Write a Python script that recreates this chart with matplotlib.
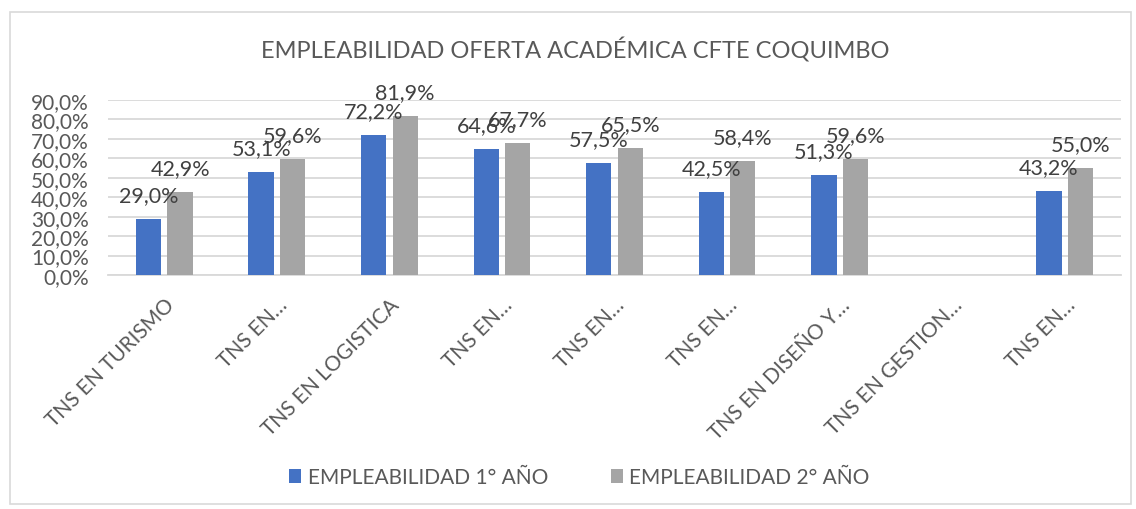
import numpy as np
import matplotlib.pyplot as plt
from matplotlib.patches import Rectangle

plt.rcParams['font.family'] = ['Lato', 'DejaVu Sans']

# data
categories = ["TNS EN TURISMO", "TNS EN…", "TNS EN LOGISTICA", "TNS EN…", "TNS EN…",
              "TNS EN…", "TNS EN DISEÑO Y…", "TNS EN GESTION…", "TNS EN…"]
year1 = [29.0, 53.1, 72.2, 64.6, 57.5, 42.5, 51.3, np.nan, 43.2]
year2 = [42.9, 59.6, 81.9, 67.7, 65.5, 58.4, 59.6, np.nan, 55.0]
series_names = ["EMPLEABILIDAD 1° AÑO", "EMPLEABILIDAD 2° AÑO"]
colors = ["#4472C4", "#A5A5A5"]

txt = "#595959"

fig = plt.figure(figsize=(11.36, 5.1), dpi=100)
ax = fig.add_axes([0.0951, 0.4588, 0.8917, 0.3432])

x = np.arange(len(categories))
w = 0.225
offs = [-0.14, 0.14]

for vals, off, c, name in zip([year1, year2], offs, colors, series_names):
    ax.bar(x + off, vals, width=w, color=c, label=name, zorder=3)
    for xi, v in zip(x, vals):
        if np.isnan(v):
            continue
        ax.annotate(f"{v:.1f}".replace(".", ",") + "%", (xi + off, v),
                    xytext=(0, 10), textcoords="offset points",
                    ha="center", va="bottom", fontsize=15.5, color="#404040",
                    annotation_clip=False, zorder=4)

ax.set_xlim(-0.5, len(categories) - 0.5)
ax.set_ylim(0, 90)
ax.set_yticks(np.arange(0, 91, 10))
ax.set_yticklabels([f"{t},0%" for t in range(0, 91, 10)])
ax.yaxis.grid(True, color="#d9d9d9", linewidth=1.3, zorder=0)
ax.set_axisbelow(True)
for s in ["top", "right", "left"]:
    ax.spines[s].set_visible(False)
ax.spines["bottom"].set_color("#d9d9d9")
ax.spines["bottom"].set_linewidth(1.3)
ax.tick_params(axis="both", length=0, labelsize=15, labelcolor=txt)
ax.tick_params(axis="y", pad=14)

ax.set_xticks(x)
ax.set_xticklabels(categories, rotation=45, ha="right", rotation_mode="anchor")
ax.tick_params(axis="x", pad=14)

fig.text(0.506, 0.902, "EMPLEABILIDAD OFERTA ACADÉMICA CFTE COQUIMBO",
         ha="center", va="center", fontsize=17, color=txt)

leg = fig.legend(loc="center", bbox_to_anchor=(0.51, 0.062), ncol=2, frameon=False,
                 fontsize=15, handlelength=0.6, handleheight=0.6, columnspacing=3,
                 handletextpad=0.3)
for t in leg.get_texts():
    t.set_color(txt)

fig.patches.append(Rectangle((0.009, 0.01), 0.987, 0.965, transform=fig.transFigure,
                             fill=False, edgecolor="#d9d9d9", linewidth=1.2))

fig.savefig("out.png", dpi=100)
